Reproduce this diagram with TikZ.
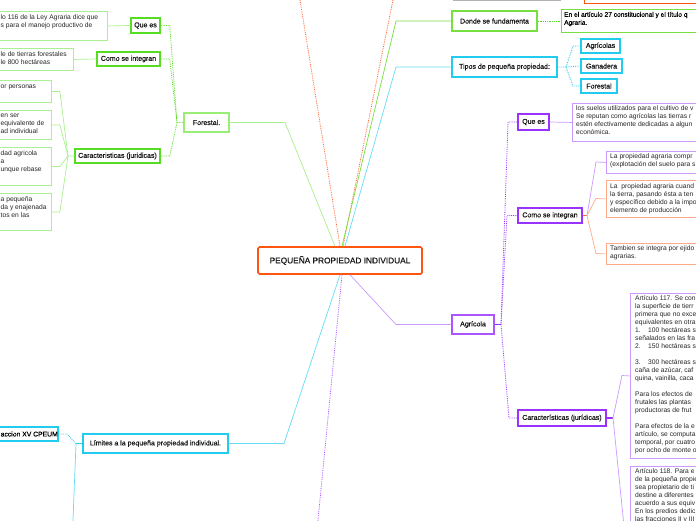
\documentclass[tikz,border=0pt]{standalone}
\usepackage{fontspec}
\setmainfont{Liberation Sans}
\newfontfamily\medfont[FakeBold=0.6]{Liberation Sans}
\usetikzlibrary{shadows}
\definecolor{gDark}{HTML}{55DD22}
\definecolor{gMid}{HTML}{77E040}
\definecolor{gPale}{HTML}{99EE77}
\definecolor{gLight}{HTML}{AAF090}
\definecolor{cDark}{HTML}{22CCEE}
\definecolor{cLight}{HTML}{66DDF5}
\definecolor{pDark}{HTML}{9933FF}
\definecolor{pMid}{HTML}{AA55FF}
\definecolor{pLight}{HTML}{CC99FF}
\definecolor{oDark}{HTML}{FF5511}
\definecolor{oLight}{HTML}{FFAA88}
\definecolor{oLine}{HTML}{FF6633}
\tikzset{
  lbl/.style={draw, line width=1.4pt, fill=white, text=black!90,
    font=\medfont\fontsize{7}{8.5}\selectfont, inner sep=0pt,
    drop shadow={shadow xshift=0.7pt, shadow yshift=-0.9pt, opacity=0.3, fill=black}},
  tbox/.style={draw, line width=0.9pt, fill=white, inner sep=0pt, anchor=north west},
  txt/.style={font=\fontsize{6.7}{8}\selectfont, align=left, inner sep=0pt, anchor=north west, text=black!85},
  conn/.style={line width=0.7pt},
  dconn/.style={line width=0.8pt, densely dotted},
}
\begin{document}
\begin{tikzpicture}[x=1pt,y=-1pt]
\useasboundingbox (0,0) rectangle (696,520);
\clip (0,0) rectangle (696,520);
\fill[white] (0,0) rectangle (696,520);

% ---------- top (cut) nodes
\node[tbox, draw=oDark, line width=1.4pt, minimum width=108, minimum height=29,
  drop shadow={shadow xshift=0.7pt, shadow yshift=-0.9pt, opacity=0.3, fill=black}] (top) at (452,-30) {};
\node[tbox, draw=oDark, line width=1.2pt, minimum width=140, minimum height=43] (orbox) at (584,-40) {};

% ---------- centre
\node[lbl, draw=oDark, line width=1.6pt, rounded corners=1.5pt, minimum width=164, minimum height=27,
  font=\medfont\fontsize{8.3}{10}\selectfont] (c) at (340,260.5) {PEQUEÑA PROPIEDAD INDIVIDUAL};

% ---------- left (Forestal.)
\node[lbl, draw=gPale, minimum width=45, minimum height=19] (fL) at (206.5,122.5) {Forestal.};
\node[lbl, draw=gDark, minimum width=29, minimum height=15] (qL) at (145.5,25.5) {Que es};
\node[lbl, draw=gDark, minimum width=63, minimum height=14] (cL) at (128.5,59) {Como se integran};
\node[lbl, draw=gDark, minimum width=85, minimum height=14] (kL) at (117.5,156) {Caracteristicas (juridicas)};

\node[tbox, draw=gLight, minimum width=167, minimum height=29] (b1) at (-60,11) {};
\node[tbox, draw=gLight, minimum width=133, minimum height=22] (b2) at (-60,48) {};
\node[tbox, draw=gLight, minimum width=111, minimum height=22] (b3) at (-60,80) {};
\node[tbox, draw=gLight, minimum width=111, minimum height=29] (b4) at (-60,110) {};
\node[tbox, draw=gLight, minimum width=111, minimum height=38] (b5) at (-60,147) {};
\node[tbox, draw=gLight, minimum width=111, minimum height=37] (b6) at (-60,193) {};
\node[txt] (t1) at (0.5,14.2) {lo 116 de la Ley Agraria dice que\\s para el manejo productivo de};
\node[txt] (t2) at (0.5,51.7) {le de tierras forestales\\le 800 hectáreas};
\node[txt] (t3) at (0.5,84.7) {or personas};
\node[txt] (t4) at (0.5,113.7) {en ser\\equivalente de\\ad individual};
\node[txt] (t5) at (0.5,150.7) {dad agricola\\a\\unque rebase};
\node[txt] (t6) at (0.5,196.7) {a pequeña\\da y enajenada\\tos en las};

\draw[conn,gLight] (b1.east) -- (qL.west);
\draw[conn,gLight] (b2.east) -- (cL.west);
\coordinate (jk) at (68,156);
\draw[conn,gLight] (b3.east) -- ++(8,0) -- (jk) -- (kL.west);
\draw[conn,gLight] (b4.east) -- ++(8,0) -- (jk);
\draw[conn,gLight] (b5.east) -- ++(8,0) -- (jk);
\draw[conn,gLight] (b6.east) -- ++(8,0) -- (jk);
\coordinate (jf) at (177,122.5);
\draw[dconn,gDark] (qL.east) -- ++(9,0) -- (jf) -- (fL.west);
\draw[dconn,gDark] (cL.east) -- ++(9,0) -- (jf);
\draw[dconn,gDark] (kL.east) -- ++(9,0) -- (jf);
\draw[conn,gLight] (fL.east) -- (285,122.5) -- ([xshift=-5pt]c.north);

% ---------- top lines
\coordinate (topL) at (297,-20);
\draw[dconn,oLine] (c.north) -- (300,0) -- (topL);
\draw[dconn,oLine] ([xshift=3pt]c.north) -- (393,0) -- (396,-15.5) -- (top.west);
\draw[conn,oLight] (top.east) -- (orbox.west);

% ---------- Donde se fundamenta
\node[lbl, draw=gMid, minimum width=85, minimum height=20] (dn) at (494.5,21) {Donde se fundamenta};
\node[tbox, draw=gMid, line width=1pt, minimum width=160, minimum height=23] (dnb) at (561,9) {};
\node[txt, font=\medfont\fontsize{6.6}{8}\selectfont, text=black] (tdn) at (564,11.7) {En el artículo 27 constitucional y el título q\\Agraria.};
\draw[conn,gMid] ([xshift=2pt]c.north) -- (396,21) -- (dn.west);
\draw[dconn,gDark] (dn.east) -- (dnb.west);

% ---------- Tipos
\node[lbl, draw=cDark, minimum width=105, minimum height=20] (tp) at (504.5,67) {Tipos de pequeña propiedad:};
\node[lbl, draw=cDark, line width=1.2pt, minimum width=39, minimum height=14] (ag1) at (600.5,46) {Agrícolas};
\node[lbl, draw=cDark, line width=1.2pt, minimum width=41, minimum height=14] (ga) at (601.5,66) {Ganadera};
\node[lbl, draw=cDark, line width=1.2pt, minimum width=36, minimum height=14] (fo2) at (599,86) {Forestal};
\draw[conn,cLight] ([xshift=5pt]c.north) -- (396,67) -- (tp.west);
\coordinate (jt) at (566,67);
\draw[dconn,cDark] (tp.east) -- (jt) -- (573,46) -- (ag1.west);
\draw[dconn,cDark] (jt) -- (ga.west);
\draw[dconn,cDark] (jt) -- (573,86) -- (fo2.west);

% ---------- Agricola
\node[lbl, draw=pMid, minimum width=42, minimum height=19] (agr) at (473,324.5) {Agrícola};
\node[lbl, draw=pDark, minimum width=31, minimum height=16] (qR) at (533.5,122) {Que es};
\node[lbl, draw=pDark, minimum width=64, minimum height=15] (cR) at (550,215.5) {Como se integran};
\node[lbl, draw=pDark, minimum width=88, minimum height=16] (kR) at (562,418) {Características (jurídicas)};

\node[tbox, draw=pLight, minimum width=150, minimum height=38] (qRb) at (572,103) {};
\node[txt] (tq) at (576,105.7) {los suelos utilizados para el cultivo de v\\Se reputan como agrícolas las tierras r\\estén efectivamente dedicadas a algun\\económica.};
\node[tbox, draw=pLight, minimum width=120, minimum height=22] (bA) at (606,151) {};
\node[txt] (tA) at (610,153.7) {La propiedad agraria compr\\(explotación del suelo para s};
\node[tbox, draw=oLight, minimum width=120, minimum height=37] (bB) at (606,180) {};
\node[txt] (tB) at (610,183.7) {La\ \ propiedad agraria cuand\\la tierra, pasando ésta a ten\\y específico debido a la impo\\elemento de producción};
\node[tbox, draw=oLight, minimum width=120, minimum height=21] (bC) at (606,243) {};
\node[txt] (tC) at (610,245.7) {Tambien se integra por ejido\\agrarias.};
\node[tbox, draw=pLight, minimum width=100, minimum height=165] (bD) at (630,293) {};
\node[txt] (tD) at (635,295.7) {Artículo 117. Se con\\la superficie de tierr\\primera que no exce\\equivalentes en otra\\1.\ \ \ \ 100 hectáreas s\\señalados en las fra\\2.\ \ \ \ 150 hectáreas s\\[8pt]3.\ \ \ \ 300 hectáreas s\\caña de azúcar, caf\\quina, vainilla, caca\\[8pt]Para los efectos de\\frutales las plantas\\productoras de frut\\[8pt]Para efectos de la e\\artículo, se computa\\temporal, por cuatro\\por ocho de monte o};
\node[tbox, draw=pLight, minimum width=100, minimum height=120] (bE) at (630,466) {};
\node[txt] (tE) at (635,468.7) {Artículo 118. Para e\\de la pequeña propie\\sea propietario de ti\\destine a diferentes\\acuerdo a sus equiv\\En los predios dedic\\las fracciones II y III};

\draw[conn,pLight] ([xshift=10pt]c.south) -- (396,324.5) -- (agr.west);
\coordinate (ja) at (501,324.5);
\draw[pDark, line width=1.1pt] (agr.east) -- (ja);
\draw[dconn,pDark] (ja) -- (508,122) -- (qR.west);
\draw[dconn,pDark] (ja) -- (507,215.5) -- (cR.west);
\draw[dconn,pDark] (ja) -- (509,418) -- (kR.west);
\draw[conn,pLight] (qR.east) -- (qRb.west);
\coordinate (jc2) at (587,215.5);
\draw[oLine, line width=1.1pt] (cR.east) -- (jc2);
\draw[conn,pLight] (jc2) -- (596,162) -- (bA.west);
\draw[conn,oLight] (jc2) -- (596,198.5) -- (bB.west);
\draw[conn,oLight] (jc2) -- (596,253.5) -- (bC.west);
\coordinate (jk2) at (613,418);
\draw[pDark, line width=1.1pt] (kR.east) -- (jk2);
\draw[conn,pLight] (jk2) -- (622,375.5) -- (bD.west);
\draw[conn,pLight] (jk2) -- (624,526) -- (bE.west);

% ---------- purple dotted to below
\coordinate (botP) at (316,540);
\draw[dconn,pMid] ([xshift=2pt]c.south) -- (318,520) -- (botP);

% ---------- Limites
\node[lbl, draw=cDark, minimum width=145, minimum height=19] (li) at (155.5,443.5) {Límites a la pequeña propiedad individual.};
\node[lbl, draw=cDark, minimum width=118, minimum height=14] (cp) at (-1,434) {};
\node[anchor=west, inner sep=0pt, font=\medfont\fontsize{6.8}{8}\selectfont, text=black] (cpt) at (0.5,434) {accion XV CPEUM};
\draw[conn,cLight] (c.south) -- (284,443.5) -- (li.east);
\coordinate (jl) at (76,443.5);
\draw[cDark, line width=1.1pt] (li.west) -- (jl);
\draw[dconn,cDark] (jl) -- (67,434) -- (cp.east);
\coordinate (botC) at (72,540);
\draw[conn,cLight] (jl) -- (73,520) -- (botC);
\end{tikzpicture}
\end{document}
